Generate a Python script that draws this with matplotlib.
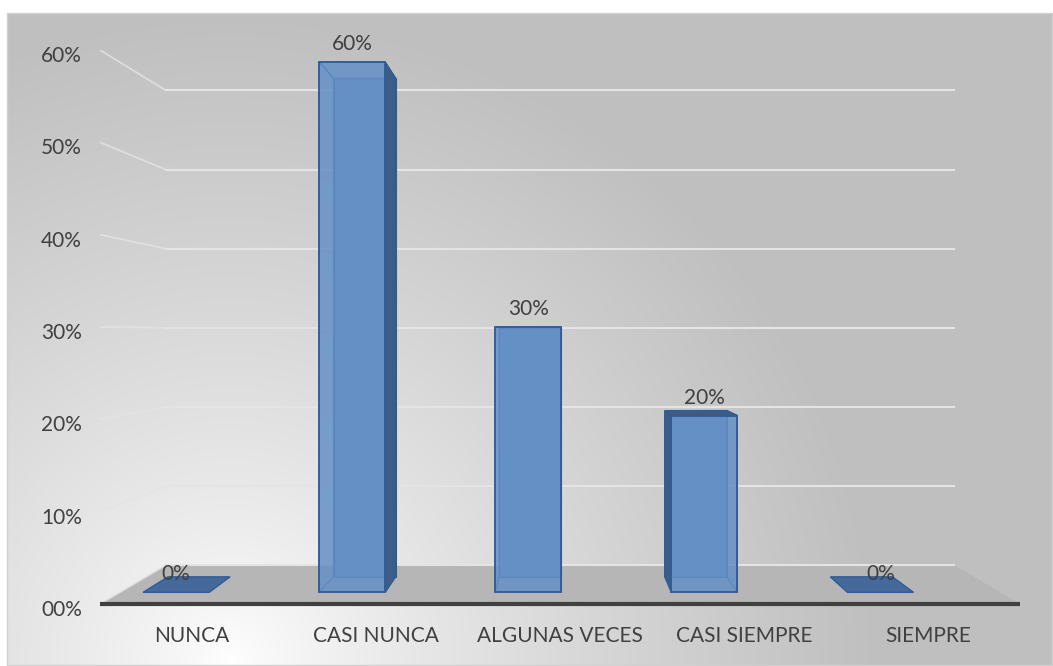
import numpy as np
import matplotlib
matplotlib.use("Agg")
import matplotlib.pyplot as plt
import matplotlib.transforms as mtrans
from matplotlib.patches import Polygon, Rectangle

# Datos del grafico
categorias = ["NUNCA", "CASI NUNCA", "ALGUNAS VECES", "CASI SIEMPRE", "SIEMPRE"]
valores = [0, 60, 30, 20, 0]          # porcentaje
niveles = [0, 10, 20, 30, 40, 50, 60]
etiquetas_y = ["00%", "10%", "20%", "30%", "40%", "50%", "60%"]

# Parametros de la "perspectiva" 3D
VX, VY = 2.0, 29.4        # punto de fuga (unidades de datos)
S_FONDO = 0.857           # escala de la pared del fondo
S_F, S_B = 0.957, 0.90    # cara frontal / trasera de las barras
DESP, MEDIO = -0.18, 0.1875

AZUL = "#6490c6"
AZUL_OSC = "#3e5d86"
AZUL_TAPA = "#46699b"
BORDE = "#2f5b96"
GRIS_TXT = "#404040"

plt.rcParams["font.family"] = ["Lato", "DejaVu Sans"]


def proj(u, v, s):
    return VX + s * (u - VX), VY + s * (v - VY)


def cara(esquinas):
    return [proj(u, v, s) for (u, v, s) in esquinas]


fig = plt.figure(figsize=(10.53, 6.66), dpi=100)

# fondo con degradado radial
bg = fig.add_axes([0, 0, 1, 1])
H, W = 666, 1053
yy, xx = np.mgrid[0:H, 0:W]
d = np.sqrt((xx - 230.0) ** 2 + (yy - 660.0) ** 2) / 650.0
t = np.clip(d, 0, 1) ** 0.8
gris = (255 - (255 - 191) * t) / 255.0
gris[(yy < 13) | (xx < 7)] = 1.0
bg.imshow(np.dstack([gris, gris, gris]), extent=[0, W, H, 0], aspect="auto")
bg.add_patch(Rectangle((7, 13), W - 8, H - 14, fill=False, ec="#d0d0d0", lw=1))
bg.set_xlim(0, W)
bg.set_ylim(H, 0)
bg.axis("off")

ax = fig.add_axes([100 / 1053, 62 / 666, 920 / 1053, 554 / 666])
ax.patch.set_visible(False)
ax.set_xlim(-0.5, 4.5)
ax.set_ylim(0, 60)
for sp in ax.spines.values():
    sp.set_visible(False)

# suelo
ax.add_patch(Polygon(cara([(-0.5, 0, 1), (4.5, 0, 1), (4.5, 0, S_FONDO), (-0.5, 0, S_FONDO)]),
                     closed=True, fc="#b6b6b6", ec="none", zorder=1))

# lineas de division (pared del fondo y pared lateral)
for v in niveles:
    a = proj(-0.5, v, 1)
    b = proj(-0.5, v, S_FONDO)
    c = proj(4.5, v, S_FONDO)
    ax.plot([a[0], b[0]], [a[1], b[1]], color="#e4e4e4", lw=1.3, alpha=0.8, zorder=2)
    ax.plot([b[0], c[0]], [b[1], c[1]], color="#e4e4e4", lw=1.5, zorder=2)

# eje frontal
ax.plot([-0.5, 4.5], [0, 0], color=GRIS_TXT, lw=3, solid_capstyle="butt", zorder=3, clip_on=False)

# barras
for i, v in enumerate(valores):
    uc = i + DESP
    u0, u1 = uc - MEDIO, uc + MEDIO
    frente = cara([(u0, 0, S_F), (u1, 0, S_F), (u1, v, S_F), (u0, v, S_F)])
    atras = cara([(u0, 0, S_B), (u1, 0, S_B), (u1, v, S_B), (u0, v, S_B)])
    tapa = cara([(u0, v, S_F), (u1, v, S_F), (u1, v, S_B), (u0, v, S_B)])
    izq = cara([(u0, 0, S_F), (u0, v, S_F), (u0, v, S_B), (u0, 0, S_B)])
    der = cara([(u1, 0, S_F), (u1, v, S_F), (u1, v, S_B), (u1, 0, S_B)])

    if v == 0:
        ax.add_patch(Polygon(tapa, closed=True, fc=AZUL_TAPA, ec=BORDE, lw=1, zorder=4))
    else:
        ax.add_patch(Polygon(atras, closed=True, fc=AZUL, ec=BORDE, lw=0.8, zorder=4))
        for lado, visible in ((izq, u0 > VX), (der, u1 < VX)):
            if visible:
                ax.add_patch(Polygon(lado, closed=True, fc=AZUL_OSC, ec=BORDE, lw=1, zorder=5))
            else:
                ax.add_patch(Polygon(lado, closed=True, fill=False, ec=BORDE, lw=0.8, zorder=5))
        if v < VY:
            ax.add_patch(Polygon(tapa, closed=True, fc=AZUL_OSC, ec=BORDE, lw=1, zorder=5))
        else:
            ax.add_patch(Polygon(tapa, closed=True, fill=False, ec=BORDE, lw=0.8, zorder=5))
        ax.add_patch(Polygon(frente, closed=True, fc=AZUL, alpha=0.85, ec="none", zorder=6))
        ax.add_patch(Polygon(frente, closed=True, fill=False, ec=BORDE, lw=1.3, zorder=7))

    # etiqueta de datos
    xt, yt = proj(uc, v, S_F)
    ax.annotate(f"{v}%", (xt, yt), xytext=(0, 13), textcoords="offset points",
                ha="center", va="center", fontsize=15, color=GRIS_TXT, zorder=8,
                annotation_clip=False)

# ejes
ax.set_yticks(niveles)
ax.set_yticklabels(etiquetas_y)
ax.set_xticks(range(len(categorias)))
ax.set_xticklabels(categorias)
ax.tick_params(axis="y", length=0, pad=13, labelsize=15, labelcolor=GRIS_TXT)
ax.tick_params(axis="x", length=0, pad=16, labelsize=15, labelcolor=GRIS_TXT)
bajar = mtrans.ScaledTranslation(0, -4 / 100, fig.dpi_scale_trans)
for lab in ax.get_yticklabels():
    lab.set_transform(lab.get_transform() + bajar)

fig.savefig("out.png", dpi=100)
